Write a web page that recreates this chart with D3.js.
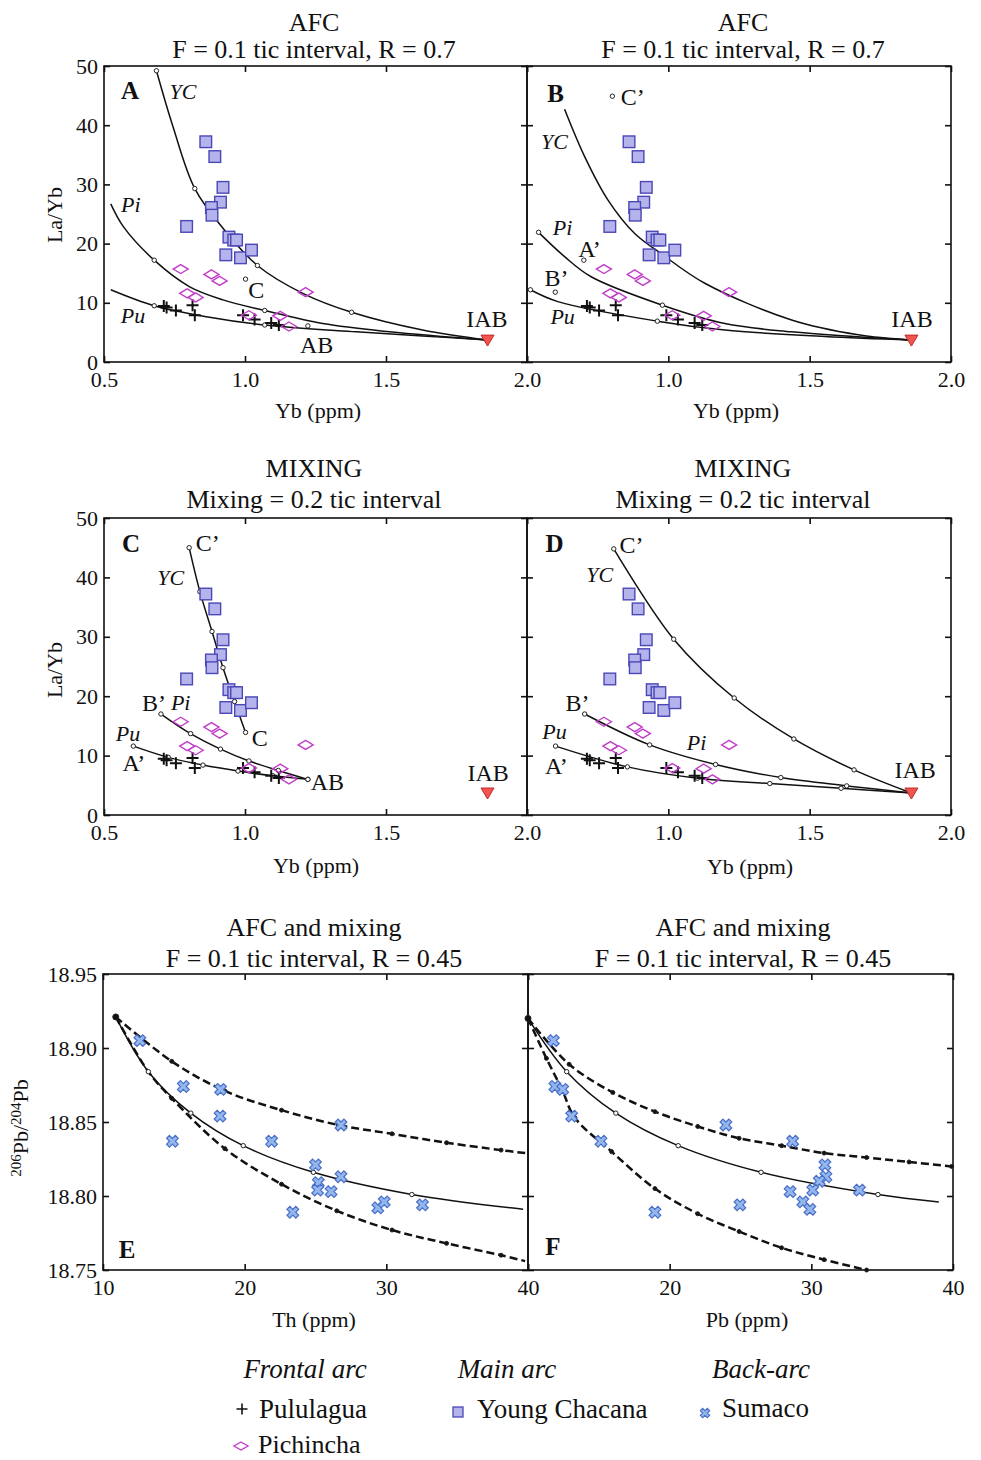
<!DOCTYPE html>
<html>
<head>
<meta charset="utf-8">
<script src="https://cdn.jsdelivr.net/npm/d3@7"></script>
<style>
body { margin: 0; background: #fff; }
svg text { font-family: "Liberation Serif", "Times New Roman", serif; fill: #111; }
</style>
</head>
<body>
<script>
var width = 981,
    height = 1460;

// ---- data: samples (Yb ppm, La/Yb) ----
var ycYb   = [0.861, 0.893, 0.922, 0.913, 0.881, 0.883, 0.793, 0.943, 0.960, 0.970, 0.932, 0.984, 1.023];
var ycLaYb = [37.2, 34.7, 29.5, 27.0, 26.1, 24.8, 22.9, 21.1, 20.6, 20.6, 18.1, 17.6, 18.9];
var piYb   = [0.772, 0.881, 0.910, 1.215, 0.795, 0.825, 1.014, 1.125, 1.156];
var piLaYb = [15.7, 14.8, 13.7, 11.8, 11.6, 10.9, 7.9, 7.8, 6.0];
var puYb   = [0.712, 0.722, 0.755, 0.814, 0.822, 0.993, 1.034, 1.093, 1.120];
var puLaYb = [9.46, 9.2, 8.7, 9.6, 7.9, 7.9, 7.2, 6.6, 6.25];
var iab = [1.86, 3.7];

// ---- model curves, panel A (AFC) ----
var aYC = [[0.686, 49.2], [0.745, 39.7], [0.822, 29.3], [0.922, 22.6], [1.044, 16.3], [1.205, 11.6], [1.378, 8.4], [1.63, 5.4], [1.86, 3.7]];
var aYCtic = [[0.686, 49.2], [0.822, 29.3], [1.044, 16.3], [1.378, 8.4]];
var aPi = [[0.524, 26.7], [0.568, 22.9], [0.678, 17.2], [0.804, 12.7], [0.922, 10.5], [1.07, 8.7], [1.276, 6.5], [1.512, 5.1], [1.86, 3.7]];
var aPitic = [[0.678, 17.2], [1.07, 8.7]];
var aPu = [[0.524, 12.2], [0.678, 9.5], [0.863, 7.65], [1.07, 6.25], [1.394, 5.1], [1.63, 4.4], [1.86, 3.7]];
var aPutic = [[0.678, 9.5], [1.07, 6.25]];
var aPoints = [[1.002, 14.0], [1.223, 6.1]];

// ---- panel B (AFC from primitive parents) ----
var bYC = [[0.633, 42.7], [0.704, 34.7], [0.786, 27.4], [0.881, 21.7], [0.975, 18.3], [1.129, 13.3], [1.436, 7.1], [1.672, 4.6], [1.86, 3.7]];
var bPi = [[0.541, 21.9], [0.633, 17.8], [0.727, 14.4], [0.979, 9.6], [1.2, 6.5], [1.436, 5.1], [1.86, 3.7]];
var bPitic = [[0.541, 21.9], [0.979, 9.6]];
var bPu = [[0.512, 12.2], [0.609, 10.2], [0.961, 6.9], [1.2, 5.4], [1.554, 4.3], [1.86, 3.7]];
var bPutic = [[0.512, 12.2], [0.961, 6.9]];
var bPoints = [[0.802, 44.9], [0.701, 17.2], [0.600, 11.8]];

// ---- panel C (mixing toward AB) ----
var cYC = [[0.802, 45.0], [0.840, 37.6], [0.883, 30.9], [0.922, 24.8], [0.963, 19.1], [1.002, 13.9]];
var cPi = [[0.702, 17.0], [0.807, 13.7], [0.913, 11.1], [1.014, 9.1], [1.118, 7.5], [1.223, 6.0]];
var cPu = [[0.604, 11.6], [0.728, 9.7], [0.851, 8.4], [0.975, 7.4], [1.099, 6.6], [1.223, 6.0]];

// ---- panel D (mixing toward IAB) ----
var dYC = [[0.807, 44.8], [1.019, 29.6], [1.233, 19.7], [1.444, 12.8], [1.657, 7.6], [1.86, 3.7]];
var dPi = [[0.704, 17.0], [0.934, 11.8], [1.167, 8.5], [1.398, 6.3], [1.631, 4.9], [1.86, 3.7]];
var dPu = [[0.601, 11.6], [0.855, 8.1], [1.103, 6.2], [1.359, 5.3], [1.611, 4.5], [1.86, 3.7]];

// ---- Sumaco, 206Pb/204Pb vs Th (E) and vs Pb (F) ----
var sumTh  = [12.6, 15.67, 18.3, 18.26, 14.9, 21.9, 26.8, 25.0, 26.8, 25.2, 25.15, 26.1, 23.4, 29.4, 29.85, 32.55];
var sumIsoE = [18.905, 18.874, 18.872, 18.854, 18.837, 18.837, 18.848, 18.821, 18.813, 18.809, 18.804, 18.803, 18.789, 18.792, 18.796, 18.794];
var sumPb  = [11.79, 11.9, 12.45, 13.08, 15.15, 23.97, 28.68, 30.96, 31.03, 30.56, 30.1, 28.5, 18.96, 24.96, 29.4, 29.9, 33.4];
var sumIsoF = [18.905, 18.874, 18.872, 18.854, 18.837, 18.848, 18.837, 18.821, 18.813, 18.810, 18.804, 18.803, 18.789, 18.794, 18.796, 18.791, 18.804];

var eUp  = [[10.9, 18.921], [14.85, 18.891], [18.6, 18.871], [22.6, 18.858], [26.6, 18.848], [30.4, 18.842], [34.25, 18.836], [38.1, 18.831], [39.8, 18.829]];
var eMid = [[10.9, 18.921], [13.2, 18.884], [16.2, 18.856], [19.9, 18.834], [24.85, 18.816], [31.8, 18.801], [39.65, 18.791]];
var eLow = [[10.9, 18.921], [13.2, 18.884], [14.85, 18.866], [18.6, 18.832], [22.6, 18.808], [26.5, 18.790], [30.4, 18.777], [34.25, 18.768], [38.1, 18.760], [39.8, 18.756]];
var eUpTic  = [[14.85, 18.891], [18.6, 18.871], [22.6, 18.858], [26.6, 18.848], [30.4, 18.842], [34.25, 18.836], [38.1, 18.831]];
var eMidTic = [[13.2, 18.884], [16.2, 18.856], [19.9, 18.834], [24.85, 18.816], [31.8, 18.801]];
var eLowTic = [[14.85, 18.866], [18.6, 18.832], [22.6, 18.808], [26.5, 18.790], [30.4, 18.777], [34.25, 18.768], [38.1, 18.760]];

var fUp  = [[10, 18.920], [12.9, 18.889], [15.98, 18.870], [18.96, 18.857], [21.98, 18.847], [24.9, 18.839], [27.9, 18.834], [30.9, 18.829], [33.9, 18.826], [36.9, 18.823], [39.9, 18.820]];
var fMid = [[10, 18.920], [12.73, 18.884], [16.2, 18.856], [20.6, 18.834], [26.45, 18.816], [34.7, 18.801], [39.0, 18.796]];
var fLow = [[10, 18.920], [11.3, 18.893], [12.4, 18.872], [13.3, 18.853], [15.9, 18.830], [18.96, 18.805], [21.98, 18.788], [24.9, 18.776], [27.9, 18.765], [30.9, 18.757], [33.9, 18.750]];
var fMidTic = [[12.73, 18.884], [16.2, 18.856], [20.6, 18.834], [26.45, 18.816], [34.7, 18.801]];

// tick values
var ybTicks = [0.5, 1.0, 1.5, 2.0],
    laybTicks = [0, 10, 20, 30, 40, 50],
    ppmTicks = [10, 20, 30, 40],
    isoTicks = [18.75, 18.80, 18.85, 18.90, 18.95];

// ---- svg ----
var svg = d3.select("body").append("svg")
    .attr("width", width)
    .attr("height", height);

var xLeft  = d3.scaleLinear().domain([0.5, 2.0]).range([104, 527]),
    xRight = d3.scaleLinear().domain([0.5, 2.0]).range([527, 951]),
    yRow1  = d3.scaleLinear().domain([0, 50]).range([362, 66]),
    yRow2  = d3.scaleLinear().domain([0, 50]).range([815, 518]),
    xTh    = d3.scaleLinear().domain([10, 40]).range([103, 528]),
    xPb    = d3.scaleLinear().domain([10, 40]).range([528, 953]),
    yIso   = d3.scaleLinear().domain([18.75, 18.95]).range([1270, 974]);

// frame with inward ticks on all four sides
function frame(x, y, xt, yt, xFmt, yFmt) {
    var g = svg.append("g");
    var xr = x.range(), yr = y.range();
    g.append("g").attr("transform", "translate(0," + yr[0] + ")")
        .call(d3.axisBottom(x).tickValues(xt).tickSize(-6).tickPadding(9).tickFormat(xFmt));
    g.append("g").attr("transform", "translate(0," + yr[1] + ")")
        .call(d3.axisTop(x).tickValues(xt).tickSize(-6).tickFormat(""));
    g.append("g").attr("transform", "translate(" + xr[0] + ",0)")
        .call(d3.axisLeft(y).tickValues(yt).tickSize(-6).tickPadding(6).tickFormat(yFmt));
    g.append("g").attr("transform", "translate(" + xr[1] + ",0)")
        .call(d3.axisRight(y).tickValues(yt).tickSize(-6).tickFormat(""));
    g.selectAll(".domain").remove();
    g.selectAll(".tick line").attr("stroke", "#111").attr("stroke-width", 1.6);
    g.selectAll(".tick text").style("font-family", "'Liberation Serif', serif").style("font-size", "22px").attr("fill", "#111");
    g.append("rect")
        .attr("x", xr[0]).attr("y", yr[1])
        .attr("width", xr[1] - xr[0]).attr("height", yr[0] - yr[1])
        .attr("fill", "none").attr("stroke", "#111").attr("stroke-width", 1.6);
}

var f1 = d3.format(".1f"), f0 = d3.format("d"), f2 = d3.format(".2f");
function skipFirst(fmt, first) { return function(d) { return d === first ? "" : fmt(d); }; }

frame(xLeft, yRow1, ybTicks, laybTicks, f1, f0);
frame(xRight, yRow1, ybTicks, laybTicks, skipFirst(f1, 0.5), "");
frame(xLeft, yRow2, ybTicks, laybTicks, f1, f0);
frame(xRight, yRow2, ybTicks, laybTicks, skipFirst(f1, 0.5), "");
frame(xTh, yIso, ppmTicks, isoTicks, f0, f2);
frame(xPb, yIso, ppmTicks, isoTicks, skipFirst(f0, 10), "");

// titles
function title(cx, y1, y2, t1, t2) {
    svg.append("text").attr("x", cx).attr("y", y1).attr("text-anchor", "middle").attr("font-size", 26).text(t1);
    svg.append("text").attr("x", cx).attr("y", y2).attr("text-anchor", "middle").attr("font-size", 26).text(t2);
}
title(314, 31, 58, "AFC", "F = 0.1 tic interval, R = 0.7");
title(743, 31, 58, "AFC", "F = 0.1 tic interval, R = 0.7");
title(314, 477, 508, "MIXING", "Mixing = 0.2 tic interval");
title(743, 477, 508, "MIXING", "Mixing = 0.2 tic interval");
title(314, 936, 967, "AFC and mixing", "F = 0.1 tic interval, R = 0.45");
title(743, 936, 967, "AFC and mixing", "F = 0.1 tic interval, R = 0.45");

// axis titles
function axTitle(x, y, txt) {
    svg.append("text").attr("x", x).attr("y", y).attr("text-anchor", "middle").attr("font-size", 22).text(txt);
}
axTitle(318, 418, "Yb (ppm)");
axTitle(736, 418, "Yb (ppm)");
axTitle(316, 873, "Yb (ppm)");
axTitle(750, 874, "Yb (ppm)");
axTitle(314, 1327, "Th (ppm)");
axTitle(747, 1327, "Pb (ppm)");

svg.append("text").attr("transform", "translate(62,215) rotate(-90)").attr("text-anchor", "middle").attr("font-size", 22).text("La/Yb");
svg.append("text").attr("transform", "translate(62,670) rotate(-90)").attr("text-anchor", "middle").attr("font-size", 22).text("La/Yb");
var isoLab = svg.append("text").attr("transform", "translate(28,1128) rotate(-90)").attr("text-anchor", "middle").attr("font-size", 22);
isoLab.append("tspan").attr("font-size", 15).attr("dy", -7).text("206");
isoLab.append("tspan").attr("dy", 7).text("Pb/");
isoLab.append("tspan").attr("font-size", 15).attr("dy", -7).text("204");
isoLab.append("tspan").attr("dy", 7).text("Pb");

// ---- marks ----
var diamondPath = "M0,-4.5L7.5,0L0,4.5L-7.5,0Z",
    plusPath = "M-6,0H6M0,-6V6",
    triPath = "M-6.5,-5L6.5,-5L0,6Z";

function lineFor(x, y) {
    return d3.line().x(function(d) { return x(d[0]); }).y(function(d) { return y(d[1]); }).curve(d3.curveCatmullRom.alpha(0.5));
}
function curve(x, y, pts, dashed) {
    svg.append("path").datum(pts)
        .attr("d", lineFor(x, y))
        .attr("fill", "none").attr("stroke", "#111")
        .attr("stroke-width", dashed ? 2.5 : 1.5)
        .attr("stroke-dasharray", dashed ? "8,4" : null);
}
function tics(x, y, pts, filled, r) {
    svg.append("g").selectAll("circle").data(pts).join("circle")
        .attr("cx", function(d) { return x(d[0]); })
        .attr("cy", function(d) { return y(d[1]); })
        .attr("r", r || 2.2)
        .attr("fill", filled ? "#111" : "#fff")
        .attr("stroke", "#222").attr("stroke-width", 1);
}
function samples(x, y) {
    var g = svg.append("g");
    g.selectAll(".pu").data(puYb).join("path")
        .attr("transform", function(d, i) { return "translate(" + x(d) + "," + y(puLaYb[i]) + ")"; })
        .attr("d", plusPath).attr("stroke", "#111").attr("stroke-width", 2);
    g.selectAll(".pi").data(piYb).join("path")
        .attr("transform", function(d, i) { return "translate(" + x(d) + "," + y(piLaYb[i]) + ")"; })
        .attr("d", diamondPath).attr("fill", "none").attr("stroke", "#c23ec9").attr("stroke-width", 1.4);
    g.selectAll(".yc").data(ycYb).join("rect")
        .attr("x", function(d) { return x(d) - 5.8; })
        .attr("y", function(d, i) { return y(ycLaYb[i]) - 5.8; })
        .attr("width", 11.6).attr("height", 11.6)
        .attr("fill", "#b5b3ec").attr("stroke", "#4b47b5").attr("stroke-width", 1.4);
    g.append("path")
        .attr("transform", "translate(" + x(iab[0]) + "," + y(iab[1]) + ")")
        .attr("d", triPath).attr("fill", "#f2544f").attr("stroke", "#c22a2a").attr("stroke-width", 1);
}
function label(x, y, pos, txt, opts) {
    opts = opts || {};
    svg.append("text")
        .attr("x", x(pos[0])).attr("y", y(pos[1]))
        .attr("dy", "0.35em")
        .attr("text-anchor", opts.anchor || "middle")
        .attr("font-size", opts.size || 24)
        .attr("font-style", opts.italic ? "italic" : null)
        .attr("font-weight", opts.bold ? "bold" : null)
        .text(txt);
}

// panel A
curve(xLeft, yRow1, aYC); curve(xLeft, yRow1, aPi); curve(xLeft, yRow1, aPu);
tics(xLeft, yRow1, aYCtic); tics(xLeft, yRow1, aPitic); tics(xLeft, yRow1, aPutic); tics(xLeft, yRow1, aPoints);
samples(xLeft, yRow1);
label(xLeft, yRow1, [0.592, 45.9], "A", {bold: true, size: 25});
label(xLeft, yRow1, [0.78, 45.8], "YC", {italic: true, size: 22});
label(xLeft, yRow1, [0.595, 26.7], "Pi", {italic: true, size: 22});
label(xLeft, yRow1, [0.603, 7.9], "Pu", {italic: true, size: 22});
label(xLeft, yRow1, [1.04, 12.3], "C");
label(xLeft, yRow1, [1.254, 3.0], "AB");
label(xLeft, yRow1, [1.858, 7.4], "IAB");

// panel B
curve(xRight, yRow1, bYC); curve(xRight, yRow1, bPi); curve(xRight, yRow1, bPu);
tics(xRight, yRow1, bPitic); tics(xRight, yRow1, bPutic); tics(xRight, yRow1, bPoints);
samples(xRight, yRow1);
label(xRight, yRow1, [0.601, 45.4], "B", {bold: true, size: 25});
label(xRight, yRow1, [0.874, 44.8], "C\u2019");
label(xRight, yRow1, [0.597, 37.3], "YC", {italic: true, size: 22});
label(xRight, yRow1, [0.626, 22.8], "Pi", {italic: true, size: 22});
label(xRight, yRow1, [0.721, 19.1], "A\u2019");
label(xRight, yRow1, [0.604, 14.2], "B\u2019");
label(xRight, yRow1, [0.626, 7.8], "Pu", {italic: true, size: 22});
label(xRight, yRow1, [1.862, 7.4], "IAB");

// panel C
curve(xLeft, yRow2, cYC); curve(xLeft, yRow2, cPi); curve(xLeft, yRow2, cPu);
tics(xLeft, yRow2, cYC); tics(xLeft, yRow2, cPi); tics(xLeft, yRow2, cPu);
samples(xLeft, yRow2);
label(xLeft, yRow2, [0.596, 45.8], "C", {bold: true, size: 25});
label(xLeft, yRow2, [0.868, 45.8], "C\u2019");
label(xLeft, yRow2, [0.737, 40.1], "YC", {italic: true, size: 22});
label(xLeft, yRow2, [0.677, 19.0], "B\u2019");
label(xLeft, yRow2, [0.772, 19.0], "Pi", {italic: true, size: 22});
label(xLeft, yRow2, [0.585, 13.8], "Pu", {italic: true, size: 22});
label(xLeft, yRow2, [0.606, 8.75], "A\u2019");
label(xLeft, yRow2, [1.052, 13.1], "C");
label(xLeft, yRow2, [1.292, 5.6], "AB");
label(xLeft, yRow2, [1.862, 7.2], "IAB");

// panel D
curve(xRight, yRow2, dYC); curve(xRight, yRow2, dPi); curve(xRight, yRow2, dPu);
tics(xRight, yRow2, dYC.slice(0, -1)); tics(xRight, yRow2, dPi.slice(0, -1)); tics(xRight, yRow2, dPu.slice(0, -1));
samples(xRight, yRow2);
label(xRight, yRow2, [0.597, 45.8], "D", {bold: true, size: 25});
label(xRight, yRow2, [0.87, 45.6], "C\u2019");
label(xRight, yRow2, [0.757, 40.6], "YC", {italic: true, size: 22});
label(xRight, yRow2, [0.679, 19.0], "B\u2019");
label(xRight, yRow2, [0.597, 14.1], "Pu", {italic: true, size: 22});
label(xRight, yRow2, [0.604, 8.4], "A\u2019");
label(xRight, yRow2, [1.10, 12.3], "Pi", {italic: true, size: 22});
label(xRight, yRow2, [1.873, 7.6], "IAB");

// crosses for Sumaco
var crossSym = d3.symbol().type(d3.symbolCross).size(85);
function sumaco(x, y, xs, ys) {
    svg.append("g").selectAll("path").data(xs).join("path")
        .attr("transform", function(d, i) { return "translate(" + x(d) + "," + y(ys[i]) + ") rotate(45)"; })
        .attr("d", crossSym)
        .attr("fill", "#92b6ee").attr("stroke", "#4a6ec6").attr("stroke-width", 1.2);
}

// panel E
curve(xTh, yIso, eUp, true); curve(xTh, yIso, eLow, true); curve(xTh, yIso, eMid);
tics(xTh, yIso, eUpTic, true, 2); tics(xTh, yIso, eLowTic, true, 2); tics(xTh, yIso, eMidTic);
tics(xTh, yIso, [eMid[0]], true, 3);
sumaco(xTh, yIso, sumTh, sumIsoE);
label(xTh, yIso, [11.7, 18.764], "E", {bold: true, size: 25});

// panel F
curve(xPb, yIso, fUp, true); curve(xPb, yIso, fLow, true); curve(xPb, yIso, fMid);
tics(xPb, yIso, fUp.slice(1), true, 2); tics(xPb, yIso, fLow.slice(1), true, 2); tics(xPb, yIso, fMidTic);
tics(xPb, yIso, [fMid[0]], true, 3);
sumaco(xPb, yIso, sumPb, sumIsoF);
label(xPb, yIso, [11.76, 18.766], "F", {bold: true, size: 25});

// ---- legend ----
var legend = svg.append("g");
[["Frontal arc", 305], ["Main arc", 507], ["Back-arc", 761]].forEach(function(h) {
    legend.append("text").attr("x", h[1]).attr("y", 1378).attr("text-anchor", "middle")
        .attr("font-size", 27).attr("font-style", "italic").text(h[0]);
});
legend.append("path").attr("transform", "translate(242,1409)").attr("d", "M-5.5,0H5.5M0,-5.5V5.5").attr("stroke", "#111").attr("stroke-width", 1.6);
legend.append("text").attr("x", 259).attr("y", 1418).attr("font-size", 27).text("Pululagua");
legend.append("path").attr("transform", "translate(241,1446)").attr("d", "M0,-4L7,0L0,4L-7,0Z").attr("fill", "none").attr("stroke", "#c23ec9").attr("stroke-width", 1.4);
legend.append("text").attr("x", 258).attr("y", 1453).attr("font-size", 26).text("Pichincha");
legend.append("rect").attr("x", 453).attr("y", 1407).attr("width", 10).attr("height", 10)
    .attr("fill", "#b5b3ec").attr("stroke", "#4b47b5").attr("stroke-width", 1.3);
legend.append("text").attr("x", 477).attr("y", 1418).attr("font-size", 27).text("Young Chacana");
legend.append("path").attr("transform", "translate(705,1413) rotate(45)").attr("d", d3.symbol().type(d3.symbolCross).size(55))
    .attr("fill", "#92b6ee").attr("stroke", "#4a6ec6").attr("stroke-width", 1.1);
legend.append("text").attr("x", 722).attr("y", 1417).attr("font-size", 27).text("Sumaco");
</script>
</body>
</html>
